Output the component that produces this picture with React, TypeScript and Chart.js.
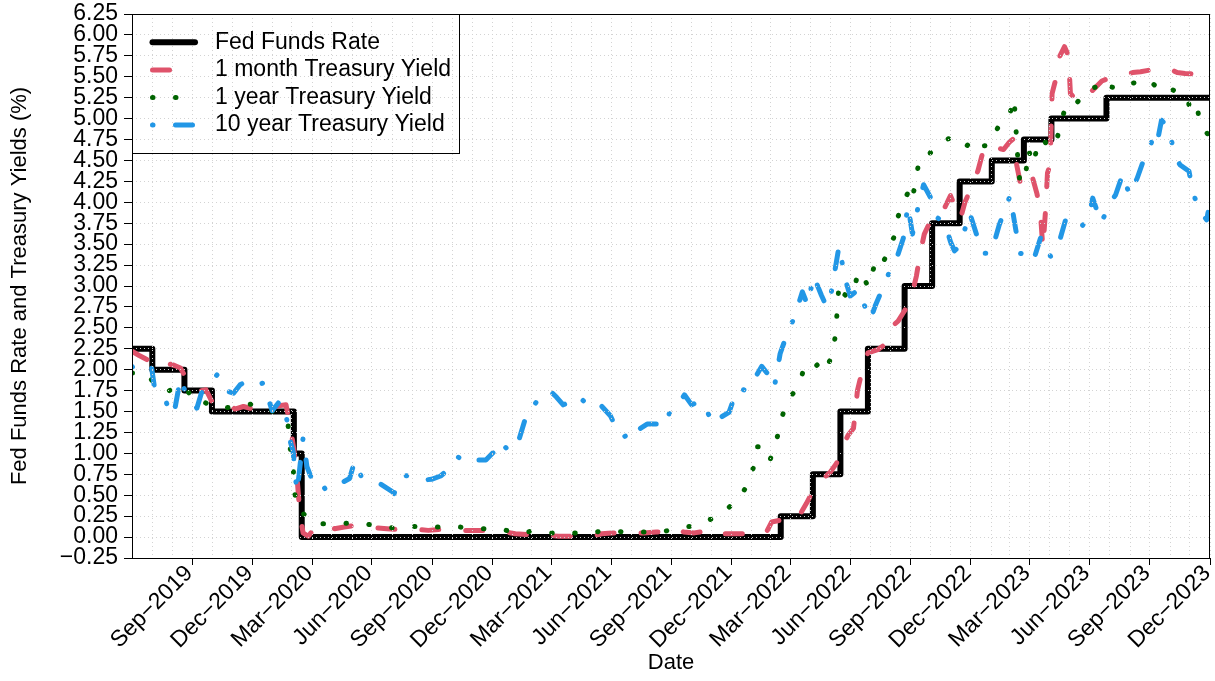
import React, { useEffect, useRef } from "react";
import { Chart, registerables } from "chart.js";

Chart.register(...registerables);

const FONT = "'Liberation Sans', Arial, Helvetica, sans-serif";

// ---- axis ranges and tick labels ----
const xStart = "2019-07-01";
const xEnd = "2024-01-01";
const quarterTickDates = [
  "2019-10-01", "2020-01-01", "2020-04-01", "2020-07-01", "2020-10-01", "2021-01-01",
  "2021-04-01", "2021-07-01", "2021-10-01", "2022-01-01", "2022-04-01", "2022-07-01",
  "2022-10-01", "2023-01-01", "2023-04-01", "2023-07-01", "2023-10-01", "2024-01-01",
];
const quarterTickLabels = [
  "Sep\u22122019", "Dec\u22122019", "Mar\u22122020", "Jun\u22122020", "Sep\u22122020", "Dec\u22122020",
  "Mar\u22122021", "Jun\u22122021", "Sep\u22122021", "Dec\u22122021", "Mar\u22122022", "Jun\u22122022",
  "Sep\u22122022", "Dec\u22122022", "Mar\u22122023", "Jun\u22122023", "Sep\u22122023", "Dec\u22122023",
];
const yMin = -0.25;
const yMax = 6.25;
const yStep = 0.25;

// ---- series ----
const fedChangeDates = [
  "2019-07-01", "2019-08-01", "2019-09-19", "2019-10-31", "2020-03-04", "2020-03-16",
  "2022-03-17", "2022-05-05", "2022-06-16", "2022-07-28", "2022-09-22", "2022-11-03",
  "2022-12-15", "2023-02-02", "2023-03-23", "2023-05-04", "2023-07-27", "2023-12-31",
];
const fedRates = [2.25, 2.0, 1.75, 1.5, 1.0, 0.0, 0.25, 0.75, 1.5, 2.25, 3.0, 3.75, 4.25, 4.5, 4.75, 5.0, 5.25, 5.25];

const oneMonthYield: [string, number][] = [
  ["2019-07-01", 2.22], ["2019-07-12", 2.17], ["2019-07-24", 2.12], ["2019-08-02", 2.08], ["2019-08-12", 2.03],
  ["2019-08-22", 2.08], ["2019-09-04", 2.05], ["2019-09-13", 2.02], ["2019-09-20", 1.92], ["2019-09-30", 1.8],
  ["2019-10-10", 1.74], ["2019-10-22", 1.76], ["2019-10-31", 1.62], ["2019-11-12", 1.56], ["2019-11-25", 1.6],
  ["2019-12-05", 1.53], ["2019-12-18", 1.56], ["2020-01-02", 1.53], ["2020-01-15", 1.54], ["2020-01-28", 1.55],
  ["2020-02-10", 1.57], ["2020-02-21", 1.58], ["2020-02-28", 1.3], ["2020-03-04", 1.05], ["2020-03-09", 0.7],
  ["2020-03-13", 0.3], ["2020-03-18", 0.05], ["2020-03-26", 0.01], ["2020-04-06", 0.12], ["2020-04-20", 0.14],
  ["2020-05-05", 0.1], ["2020-05-20", 0.12], ["2020-06-05", 0.14], ["2020-06-22", 0.13], ["2020-07-08", 0.11],
  ["2020-07-24", 0.1], ["2020-08-10", 0.09], ["2020-08-25", 0.1], ["2020-09-10", 0.09], ["2020-09-25", 0.08],
  ["2020-10-12", 0.09], ["2020-10-28", 0.09], ["2020-11-12", 0.08], ["2020-11-27", 0.08], ["2020-12-15", 0.08],
  ["2021-01-04", 0.08], ["2021-01-20", 0.06], ["2021-02-05", 0.04], ["2021-02-22", 0.03], ["2021-03-10", 0.03],
  ["2021-03-25", 0.02], ["2021-04-12", 0.01], ["2021-04-28", 0.01], ["2021-05-14", 0.01], ["2021-06-01", 0.01],
  ["2021-06-17", 0.04], ["2021-07-02", 0.05], ["2021-07-20", 0.05], ["2021-08-05", 0.05], ["2021-08-20", 0.05],
  ["2021-09-08", 0.06], ["2021-09-27", 0.07], ["2021-10-06", 0.11], ["2021-10-20", 0.06], ["2021-11-05", 0.05],
  ["2021-11-22", 0.07], ["2021-12-03", 0.1], ["2021-12-17", 0.04], ["2022-01-05", 0.04], ["2022-01-20", 0.04],
  ["2022-02-07", 0.04], ["2022-02-22", 0.04], ["2022-03-03", 0.18], ["2022-03-15", 0.2], ["2022-03-28", 0.17],
  ["2022-04-08", 0.22], ["2022-04-16", 0.28], ["2022-04-25", 0.4], ["2022-05-05", 0.55], ["2022-05-14", 0.62],
  ["2022-05-21", 0.7], ["2022-06-01", 0.78], ["2022-06-10", 0.88], ["2022-06-19", 1.08], ["2022-06-28", 1.22],
  ["2022-07-06", 1.3], ["2022-07-12", 1.75], ["2022-07-22", 2.08], ["2022-07-28", 2.2], ["2022-08-12", 2.24],
  ["2022-08-23", 2.3], ["2022-08-31", 2.5], ["2022-09-12", 2.58], ["2022-09-20", 2.68], ["2022-10-01", 2.82],
  ["2022-10-10", 3.12], ["2022-10-16", 3.4], ["2022-10-22", 3.62], ["2022-10-28", 3.72], ["2022-11-08", 3.76],
  ["2022-11-15", 3.8], ["2022-11-23", 3.95], ["2022-12-01", 4.08], ["2022-12-08", 3.95], ["2022-12-16", 3.8],
  ["2022-12-23", 4.0], ["2023-01-03", 4.2], ["2023-01-12", 4.38], ["2023-01-20", 4.62], ["2023-01-27", 4.7],
  ["2023-02-10", 4.65], ["2023-02-20", 4.63], ["2023-03-01", 4.72], ["2023-03-07", 4.76], ["2023-03-12", 4.45],
  ["2023-03-17", 4.25], ["2023-03-24", 4.4], ["2023-04-05", 4.3], ["2023-04-12", 4.1], ["2023-04-17", 3.9],
  ["2023-04-21", 3.45], ["2023-04-25", 3.9], ["2023-04-28", 4.35], ["2023-05-02", 4.45], ["2023-05-05", 5.3],
  ["2023-05-10", 5.45], ["2023-05-17", 5.75], ["2023-05-24", 5.86], ["2023-05-30", 5.75], ["2023-06-02", 5.3],
  ["2023-06-14", 5.2], ["2023-06-25", 5.25], ["2023-07-01", 5.3], ["2023-07-20", 5.45], ["2023-08-05", 5.5],
  ["2023-08-21", 5.52], ["2023-09-05", 5.55], ["2023-09-17", 5.56], ["2023-10-01", 5.58], ["2023-10-10", 5.58],
  ["2023-10-30", 5.6], ["2023-11-12", 5.55], ["2023-11-24", 5.54], ["2023-12-14", 5.53], ["2023-12-31", 5.54],
];

const oneYearYield: [string, number][] = [
  ["2019-07-01", 1.96], ["2019-07-12", 1.96], ["2019-07-24", 1.96], ["2019-08-03", 1.84], ["2019-08-12", 1.78],
  ["2019-08-18", 1.74], ["2019-08-27", 1.75], ["2019-09-08", 1.8], ["2019-09-20", 1.79], ["2019-09-23", 1.76],
  ["2019-10-02", 1.64], ["2019-10-10", 1.66], ["2019-10-30", 1.56], ["2019-11-14", 1.54], ["2019-12-10", 1.56],
  ["2019-12-31", 1.59], ["2020-01-23", 1.54], ["2020-02-09", 1.47], ["2020-02-24", 1.35], ["2020-02-27", 1.08],
  ["2020-03-03", 0.83], ["2020-03-05", 0.54], ["2020-03-09", 0.33], ["2020-03-17", 0.29], ["2020-04-04", 0.16],
  ["2020-04-16", 0.16], ["2020-05-11", 0.16], ["2020-06-09", 0.17], ["2020-07-06", 0.14], ["2020-08-01", 0.11],
  ["2020-08-24", 0.13], ["2020-09-18", 0.12], ["2020-10-14", 0.12], ["2020-11-12", 0.12], ["2020-12-12", 0.1],
  ["2021-01-12", 0.1], ["2021-02-06", 0.05], ["2021-03-04", 0.07], ["2021-03-31", 0.05], ["2021-04-27", 0.05],
  ["2021-05-28", 0.05], ["2021-06-26", 0.08], ["2021-07-21", 0.06], ["2021-08-19", 0.06], ["2021-09-17", 0.06],
  ["2021-10-16", 0.12], ["2021-11-07", 0.13], ["2021-11-26", 0.2], ["2021-12-15", 0.26], ["2021-12-30", 0.37],
  ["2022-01-14", 0.48], ["2022-01-27", 0.65], ["2022-02-04", 0.85], ["2022-02-09", 1.08], ["2022-02-24", 1.08],
  ["2022-03-01", 0.93], ["2022-03-08", 1.08], ["2022-03-16", 1.33], ["2022-03-20", 1.46], ["2022-03-25", 1.6],
  ["2022-04-04", 1.71], ["2022-04-13", 1.78], ["2022-04-21", 2.01], ["2022-04-29", 2.08], ["2022-05-08", 2.03],
  ["2022-05-17", 2.1], ["2022-05-25", 2.01], ["2022-06-04", 2.18], ["2022-06-09", 2.45], ["2022-06-11", 2.7],
  ["2022-06-14", 3.03], ["2022-06-20", 2.91], ["2022-06-28", 2.87], ["2022-07-06", 2.92], ["2022-07-13", 3.17],
  ["2022-07-21", 3.12], ["2022-07-28", 2.99], ["2022-08-03", 3.12], ["2022-08-09", 3.33], ["2022-08-20", 3.28],
  ["2022-08-29", 3.43], ["2022-09-06", 3.59], ["2022-09-12", 3.83], ["2022-09-20", 4.0], ["2022-09-28", 4.13],
  ["2022-10-03", 4.02], ["2022-10-09", 4.25], ["2022-10-14", 4.5], ["2022-10-20", 4.58], ["2022-10-31", 4.59],
  ["2022-11-15", 4.7], ["2022-11-28", 4.76], ["2022-12-05", 4.75], ["2022-12-13", 4.71], ["2022-12-23", 4.65],
  ["2023-01-04", 4.75], ["2023-01-12", 4.67], ["2023-01-28", 4.68], ["2023-02-05", 4.8], ["2023-02-16", 4.96],
  ["2023-03-01", 5.04], ["2023-03-08", 5.24], ["2023-03-10", 5.0], ["2023-03-13", 4.6], ["2023-03-17", 4.22],
  ["2023-03-26", 4.35], ["2023-03-30", 4.63], ["2023-04-06", 4.45], ["2023-04-12", 4.65], ["2023-04-21", 4.77],
  ["2023-04-28", 4.67], ["2023-05-05", 4.65], ["2023-05-11", 4.71], ["2023-05-17", 4.9], ["2023-05-25", 5.13],
  ["2023-06-01", 5.1], ["2023-06-08", 5.15], ["2023-06-17", 5.24], ["2023-06-29", 5.35], ["2023-07-12", 5.38],
  ["2023-07-15", 5.31], ["2023-08-02", 5.38], ["2023-08-16", 5.36], ["2023-08-30", 5.42], ["2023-09-11", 5.43],
  ["2023-09-29", 5.47], ["2023-10-11", 5.38], ["2023-10-24", 5.42], ["2023-11-03", 5.35], ["2023-11-14", 5.31],
  ["2023-11-28", 5.25], ["2023-12-02", 5.07], ["2023-12-13", 5.13], ["2023-12-16", 4.94], ["2023-12-28", 4.82],
  ["2023-12-31", 4.79],
];

const tenYearYield: [string, number][] = [
  ["2019-07-01", 2.03], ["2019-07-10", 2.07], ["2019-07-24", 2.08], ["2019-07-31", 2.02], ["2019-08-05", 1.75],
  ["2019-08-13", 1.68], ["2019-08-22", 1.62], ["2019-08-28", 1.47], ["2019-09-03", 1.47], ["2019-09-13", 1.9],
  ["2019-09-20", 1.74], ["2019-10-02", 1.62], ["2019-10-08", 1.54], ["2019-10-16", 1.75], ["2019-10-28", 1.84],
  ["2019-11-08", 1.94], ["2019-11-20", 1.75], ["2019-12-03", 1.72], ["2019-12-13", 1.82], ["2019-12-27", 1.88],
  ["2020-01-07", 1.82], ["2020-01-17", 1.84], ["2020-01-31", 1.51], ["2020-02-12", 1.63], ["2020-02-21", 1.46],
  ["2020-02-28", 1.13], ["2020-03-03", 1.02], ["2020-03-06", 0.74], ["2020-03-09", 0.54], ["2020-03-18", 1.18],
  ["2020-03-24", 0.84], ["2020-03-31", 0.7], ["2020-04-09", 0.73], ["2020-04-21", 0.57], ["2020-05-01", 0.64],
  ["2020-05-14", 0.64], ["2020-05-28", 0.7], ["2020-06-05", 0.91], ["2020-06-15", 0.72], ["2020-06-30", 0.66],
  ["2020-07-15", 0.63], ["2020-07-31", 0.55], ["2020-08-04", 0.52], ["2020-08-13", 0.72], ["2020-08-28", 0.74],
  ["2020-09-15", 0.68], ["2020-09-30", 0.69], ["2020-10-14", 0.73], ["2020-10-26", 0.81], ["2020-11-09", 0.96],
  ["2020-11-24", 0.88], ["2020-12-08", 0.92], ["2020-12-22", 0.92], ["2021-01-06", 1.04], ["2021-01-12", 1.15],
  ["2021-01-27", 1.02], ["2021-02-10", 1.15], ["2021-02-25", 1.54], ["2021-03-05", 1.57], ["2021-03-18", 1.71],
  ["2021-03-31", 1.74], ["2021-04-09", 1.67], ["2021-04-19", 1.58], ["2021-05-03", 1.63], ["2021-05-12", 1.69],
  ["2021-05-26", 1.58], ["2021-06-08", 1.53], ["2021-06-16", 1.57], ["2021-06-30", 1.45], ["2021-07-08", 1.32],
  ["2021-07-19", 1.19], ["2021-07-30", 1.24], ["2021-08-04", 1.19], ["2021-08-13", 1.29], ["2021-08-25", 1.35],
  ["2021-09-08", 1.35], ["2021-09-20", 1.31], ["2021-09-30", 1.52], ["2021-10-12", 1.59], ["2021-10-21", 1.7],
  ["2021-11-01", 1.58], ["2021-11-15", 1.63], ["2021-11-26", 1.48], ["2021-12-03", 1.35], ["2021-12-13", 1.42],
  ["2021-12-28", 1.49], ["2022-01-10", 1.78], ["2022-01-24", 1.75], ["2022-02-07", 1.92], ["2022-02-16", 2.04],
  ["2022-02-24", 1.96], ["2022-03-07", 1.78], ["2022-03-16", 2.19], ["2022-03-28", 2.46], ["2022-04-06", 2.61],
  ["2022-04-19", 2.93], ["2022-04-27", 2.77], ["2022-05-06", 3.12], ["2022-05-18", 2.89], ["2022-05-26", 2.75],
  ["2022-06-02", 2.92], ["2022-06-14", 3.48], ["2022-06-23", 3.09], ["2022-07-01", 2.88], ["2022-07-14", 2.96],
  ["2022-07-22", 2.78], ["2022-08-01", 2.6], ["2022-08-08", 2.76], ["2022-08-22", 3.02], ["2022-08-31", 3.19],
  ["2022-09-09", 3.31], ["2022-09-20", 3.57], ["2022-09-27", 3.96], ["2022-10-04", 3.62], ["2022-10-14", 4.0],
  ["2022-10-21", 4.21], ["2022-11-01", 4.05], ["2022-11-10", 3.82], ["2022-11-22", 3.76], ["2022-12-01", 3.53],
  ["2022-12-07", 3.42], ["2022-12-16", 3.48], ["2022-12-30", 3.88], ["2023-01-10", 3.61], ["2023-01-19", 3.39],
  ["2023-02-01", 3.39], ["2023-02-13", 3.72], ["2023-03-02", 4.08], ["2023-03-10", 3.7], ["2023-03-17", 3.39],
  ["2023-03-24", 3.38], ["2023-04-06", 3.29], ["2023-04-18", 3.59], ["2023-05-03", 3.35], ["2023-05-15", 3.5],
  ["2023-05-26", 3.8], ["2023-06-06", 3.7], ["2023-06-20", 3.72], ["2023-06-30", 3.81], ["2023-07-06", 4.05],
  ["2023-07-19", 3.75], ["2023-07-31", 3.97], ["2023-08-10", 4.09], ["2023-08-21", 4.34], ["2023-08-31", 4.09],
  ["2023-09-12", 4.29], ["2023-09-21", 4.49], ["2023-09-29", 4.59], ["2023-10-06", 4.78], ["2023-10-12", 4.7],
  ["2023-10-19", 4.98], ["2023-10-31", 4.88], ["2023-11-07", 4.58], ["2023-11-16", 4.45], ["2023-11-30", 4.37],
  ["2023-12-06", 4.12], ["2023-12-15", 3.91], ["2023-12-27", 3.79], ["2023-12-29", 3.88],
];

const toTime = (s: string) => Date.parse(s + "T00:00:00Z");

const labelMap = new Map<number, string>(quarterTickDates.map((d, i) => [toTime(d), quarterTickLabels[i]]));

function monthTicks(): { value: number }[] {
  const out: { value: number }[] = [];
  const end = toTime(xEnd);
  let y = 2019;
  let m = 6;
  while (true) {
    const t = Date.UTC(y, m, 1);
    if (t > end) break;
    out.push({ value: t });
    m++;
    if (m > 11) { m = 0; y++; }
  }
  return out;
}

const fmtY = (v: number) => {
  if (Math.abs(v) < 1e-9) return "0.00";
  const s = v.toFixed(2);
  return s.replace("-", "\u2212");
};

const boxPlugin = {
  id: "rbox",
  afterDraw(chart: any) {
    const { ctx, chartArea } = chart;
    const { left, top, right, bottom } = chartArea;
    ctx.save();
    ctx.setLineDash([]);
    ctx.strokeStyle = "#000";
    ctx.lineWidth = 1;
    ctx.strokeRect(left + 0.5, top + 0.5, right - left - 1, bottom - top);
    ctx.restore();
  },
};

const legendPlugin = {
  id: "rlegend",
  afterDraw(chart: any) {
    const { ctx, chartArea } = chart;
    const { left, top } = chartArea;
    ctx.save();
    ctx.setLineDash([]);
    ctx.strokeStyle = "#000";
    ctx.lineWidth = 1;
    ctx.strokeRect(left + 0.5, top + 0.5, 327, 139);
    chart.data.datasets.forEach((ds: any, i: number) => {
      const y = top + 28.3 + i * 27.6;
      ctx.beginPath();
      ctx.setLineDash(ds.borderDash || []);
      ctx.lineDashOffset = 0;
      ctx.lineWidth = ds.borderWidth;
      ctx.lineCap = "round";
      ctx.strokeStyle = ds.borderColor;
      ctx.moveTo(left + 20.5, y);
      ctx.lineTo(left + 63, y);
      ctx.stroke();
      ctx.setLineDash([]);
      ctx.fillStyle = "#000";
      ctx.font = `23px ${FONT}`;
      ctx.textBaseline = "middle";
      ctx.textAlign = "left";
      ctx.fillText(ds.label, left + 83, y);
    });
    ctx.restore();
  },
};

export default function App() {
  const canvasRef = useRef<HTMLCanvasElement | null>(null);

  useEffect(() => {
    if (!canvasRef.current) return;
    const fedPoints = fedChangeDates.map((d, i) => ({ x: toTime(d), y: fedRates[i] }));
    const toPts = (arr: [string, number][]) => arr.map(([d, v]) => ({ x: toTime(d), y: v }));

    const common = {
      pointRadius: 0,
      pointHoverRadius: 0,
      fill: false,
      tension: 0,
      borderCapStyle: "round",
      borderJoinStyle: "round",
    };

    const chart = new Chart(canvasRef.current, {
      type: "line",
      data: {
        datasets: [
          { ...common, label: "Fed Funds Rate", data: fedPoints, borderColor: "#000000", borderWidth: 6, stepped: "before", order: 4 },
          { ...common, label: "1 month Treasury Yield", data: toPts(oneMonthYield), borderColor: "#DF536B", borderWidth: 5, borderDash: [17, 27], order: 3 },
          { ...common, label: "1 year Treasury Yield", data: toPts(oneYearYield), borderColor: "#006400", borderWidth: 5, borderDash: [0.5, 22.5], order: 2 },
          { ...common, label: "10 year Treasury Yield", data: toPts(tenYearYield), borderColor: "#2297E6", borderWidth: 5, borderDash: [0.5, 22.5, 17, 23], order: 1 },
        ] as any,
      },
      options: {
        responsive: false,
        maintainAspectRatio: false,
        animation: false,
        devicePixelRatio: 1,
        events: [],
        layout: { padding: { left: 0, top: 14, right: 5, bottom: 0 } },
        plugins: { legend: { display: false }, tooltip: { enabled: false } },
        scales: {
          x: {
            type: "linear",
            min: toTime(xStart),
            max: toTime(xEnd),
            afterBuildTicks: (s: any) => { s.ticks = monthTicks(); },
            afterFit: (s: any) => { s.height = 123; s.paddingLeft = 0; s.paddingRight = 0; },
            ticks: {
              autoSkip: false,
              maxRotation: 45,
              minRotation: 45,
              padding: -5,
              labelOffset: -3,
              color: "#000",
              font: { family: FONT, size: 23 },
              callback: (v: any) => labelMap.get(Number(v)) ?? "",
            },
            grid: {
              color: "#D3D3D3",
              lineWidth: 1,
              z: 1,
              drawTicks: true,
              tickLength: 7,
              tickWidth: 1,
              tickBorderDash: [],
              tickColor: (c: any) => (c.tick && labelMap.has(c.tick.value) ? "#000" : "rgba(0,0,0,0)"),
            },
            border: { display: false, dash: [1, 3] },
            title: { display: true, text: "Date", color: "#000", font: { family: FONT, size: 22 }, padding: { top: 0, bottom: 5 } },
          },
          y: {
            type: "linear",
            min: yMin,
            max: yMax,
            afterFit: (s: any) => { s.width = 132; s.paddingTop = 0; s.paddingBottom = 0; },
            ticks: {
              stepSize: yStep,
              autoSkip: false,
              padding: 6,
              color: "#000",
              font: { family: FONT, size: 23, lineHeight: 1 },
              callback: (v: any) => fmtY(Number(v)),
            },
            grid: {
              color: "#D3D3D3",
              lineWidth: 1,
              z: 1,
              drawTicks: true,
              tickLength: 8,
              tickWidth: 1,
              tickBorderDash: [],
              tickColor: "#000",
            },
            border: { display: false, dash: [1, 3] },
            title: {
              display: true,
              text: "Fed Funds Rate and Treasury Yields (%)",
              color: "#000",
              font: { family: FONT, size: 22 },
              padding: { top: 7, bottom: 0 },
            },
          },
        },
      } as any,
      plugins: [boxPlugin, legendPlugin],
    });
    return () => chart.destroy();
  }, []);

  return (
    <div style={{ position: "absolute", left: 0, top: 0, width: 1215, height: 681, background: "#fff" }}>
      <canvas ref={canvasRef} width={1215} height={681} style={{ display: "block" }} />
    </div>
  );
}
